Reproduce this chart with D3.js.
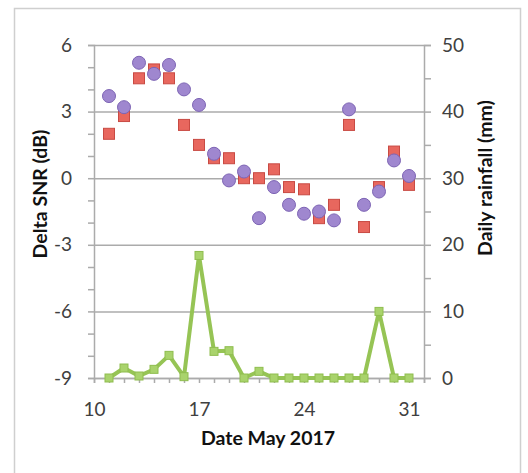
<!DOCTYPE html>
<html>
<head>
<meta charset="utf-8">
<script src="https://cdn.jsdelivr.net/npm/d3@7/dist/d3.min.js"></script>
<style>
  html, body { margin: 0; padding: 0; background: #fff; }
  svg { display: block; }
</style>
</head>
<body>
<div id="chart"></div>
<script>
// Days of May 2017
const days = [11, 12, 13, 14, 15, 16, 17, 18, 19, 20, 21, 22, 23, 24, 25, 26, 27, 28, 29, 30, 31];
// Delta SNR series (dB)
const snrCircle = [3.7, 3.2, 5.2, 4.7, 5.1, 4.0, 3.3, 1.1, -0.1, 0.3, -1.8, -0.4, -1.2, -1.6, -1.5, -1.9, 3.1, -1.2, -0.6, 0.8, 0.1];
const snrSquare = [2.0, 2.8, 4.5, 4.9, 4.5, 2.4, 1.5, 0.9, 0.9, 0.0, 0.0, 0.4, -0.4, -0.5, -1.8, -1.2, 2.4, -2.2, -0.4, 1.2, -0.3];
// Daily rainfall (mm)
const rainfall = [0, 1.5, 0.3, 1.3, 3.4, 0.2, 18.4, 4.0, 4.1, 0, 1.0, 0, 0, 0, 0, 0, 0, 0, 10, 0, 0];
// Axis ticks
const xTicks = [10, 17, 24, 31];
const leftTicks = [-9, -6, -3, 0, 3, 6];
const rightTicks = [0, 10, 20, 30, 40, 50];

const W = 528, H = 473;
const svg = d3.select("#chart").append("svg").attr("width", W).attr("height", H);

// Outer chart frame
svg.append("rect")
  .attr("x", 14.5).attr("y", 8.5).attr("width", 506).attr("height", 480)
  .attr("fill", "none").attr("stroke", "#cfcfcf").attr("stroke-width", 1.5);

const L = 94, R = 424, T = 45, B = 378;
const x = d3.scaleLinear().domain([10, 32]).range([L, R]);
const yL = d3.scaleLinear().domain([-9, 6]).range([B, T]);
const yR = d3.scaleLinear().domain([0, 50]).range([B, T]);

const axisColor = "#ababab";
const labelColor = "#404040";
const font = "Lato, 'Open Sans', sans-serif";
const plain = d => String(d);

// Horizontal gridlines
svg.append("g").selectAll("line").data(leftTicks).join("line")
  .attr("x1", L).attr("x2", R)
  .attr("y1", d => yL(d) + 0.5).attr("y2", d => yL(d) + 0.5)
  .attr("stroke", axisColor).attr("stroke-width", 1.5);

// Left axis with minor ticks every 1 dB
const gL = svg.append("g").attr("transform", `translate(${L},0)`)
  .call(d3.axisLeft(yL).tickValues(d3.range(-9, 7, 1)).tickSize(6).tickFormat(""));
const gLlab = svg.append("g").attr("transform", `translate(${L},0)`)
  .call(d3.axisLeft(yL).tickValues(leftTicks).tickSize(0).tickPadding(22).tickFormat(plain));

// Right axis with minor ticks every 5 mm
const gR = svg.append("g").attr("transform", `translate(${R},0)`)
  .call(d3.axisRight(yR).tickValues(d3.range(0, 55, 5)).tickSize(7).tickFormat(""));
const gRlab = svg.append("g").attr("transform", `translate(${R},0)`)
  .call(d3.axisRight(yR).tickValues(rightTicks).tickSize(0).tickPadding(18).tickFormat(plain));

// Bottom axis with daily ticks
const gB = svg.append("g").attr("transform", `translate(0,${B})`)
  .call(d3.axisBottom(x).tickValues(d3.range(10, 33, 1)).tickSize(5).tickFormat(""));
const gBlab = svg.append("g").attr("transform", `translate(0,${B})`)
  .call(d3.axisBottom(x).tickValues(xTicks).tickSize(0).tickPadding(22).tickFormat(plain));

[gL, gR, gB, gLlab, gRlab, gBlab].forEach(g => {
  g.selectAll(".domain").attr("stroke", axisColor).attr("stroke-width", 1.5);
  g.selectAll(".tick line").attr("stroke", axisColor).attr("stroke-width", 1.5);
  g.selectAll("text").attr("fill", labelColor).attr("font-family", font).attr("font-size", 19);
});
[gLlab, gRlab, gBlab].forEach(g => g.select(".domain").remove());
gBlab.selectAll("text").attr("dy", "0.35em").attr("y", 31);

// Red square series
const sq = 11;
svg.append("g").selectAll("rect").data(days).join("rect")
  .attr("x", (d, i) => x(d) - sq / 2)
  .attr("y", (d, i) => yL(snrSquare[i]) - sq / 2)
  .attr("width", sq).attr("height", sq)
  .attr("fill", "#e8675e").attr("stroke", "#c84a43").attr("stroke-width", 1);

// Purple circle series
svg.append("g").selectAll("circle").data(days).join("circle")
  .attr("cx", d => x(d))
  .attr("cy", (d, i) => yL(snrCircle[i]))
  .attr("r", 6.5)
  .attr("fill", "#9f87cf").attr("stroke", "#7d64b4").attr("stroke-width", 1);

// Rainfall line with square markers
const line = d3.line().x(d => x(d[0])).y(d => yR(d[1]));
const rainPts = days.map((d, i) => [d, rainfall[i]]);
svg.append("path").datum(rainPts)
  .attr("d", line).attr("fill", "none")
  .attr("stroke", "#96c455").attr("stroke-width", 4).attr("stroke-linejoin", "round");
const rs = 8;
svg.append("g").selectAll("rect").data(rainPts).join("rect")
  .attr("x", d => x(d[0]) - rs / 2).attr("y", d => yR(d[1]) - rs / 2)
  .attr("width", rs).attr("height", rs)
  .attr("fill", "#a9d36c").attr("stroke", "#8fbd4f").attr("stroke-width", 1);

// Axis titles
const titleSize = 19.5;
svg.append("text")
  .attr("transform", "translate(47,194) rotate(-90)")
  .attr("text-anchor", "middle")
  .attr("font-family", font).attr("font-weight", "bold").attr("font-size", titleSize)
  .attr("fill", "#111").text("Delta SNR (dB)");
svg.append("text")
  .attr("transform", "translate(492,178) rotate(-90)")
  .attr("text-anchor", "middle")
  .attr("font-family", font).attr("font-weight", "bold").attr("font-size", titleSize)
  .attr("fill", "#111").text("Daily rainfall (mm)");
svg.append("text")
  .attr("x", 268).attr("y", 445)
  .attr("text-anchor", "middle")
  .attr("font-family", font).attr("font-weight", "bold").attr("font-size", titleSize)
  .attr("fill", "#111").text("Date May 2017");
</script>
</body>
</html>
